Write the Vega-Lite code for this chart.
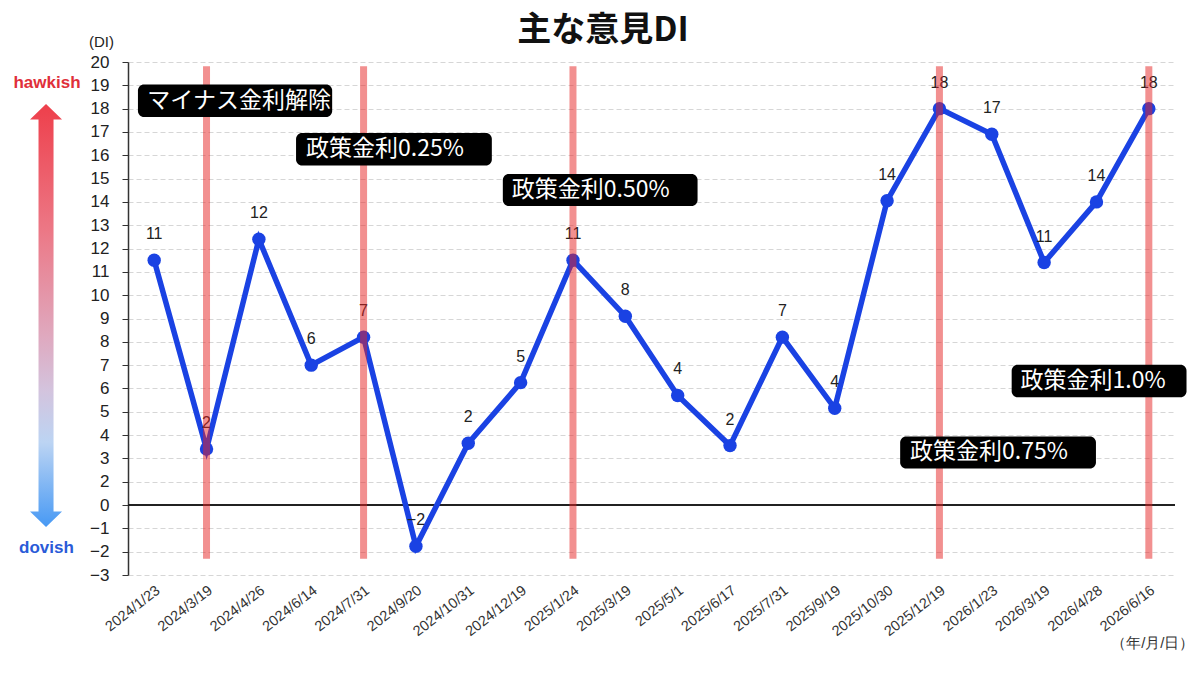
{
  "$schema": "https://vega.github.io/schema/vega-lite/v6.json",
  "title": {"text": "主な意見DI", "font": "Noto Sans CJK JP", "fontSize": 34, "fontWeight": "bold", "color": "#111", "anchor": "middle", "offset": -14, "dx": 6},
  "padding": {"left": 0, "top": 14, "right": 10, "bottom": 5},
  "background": "white",
  "spacing": 0,
  "config": {
    "view": {"stroke": null},
    "font": "Liberation Sans",
    "axisY": {
      "labelOverlap": false, "labelFlush": false,
      "grid": true, "gridDash": [5, 3], "gridColor": "#d6d6d6",
      "domainColor": "#333", "domainWidth": 1.5, "tickColor": "#333", "tickSize": 6,
      "labelFontSize": 17, "labelPadding": 13, "labelColor": "#222",
      "titleAngle": 0, "titleAlign": "center", "titleBaseline": "middle",
      "titleX": -27, "titleY": -21, "titleFontSize": 15, "titleFontWeight": "normal", "titleColor": "#222"
    }
  },
  "datasets": {
    "di": [
      {"date": "2024/1/23", "pos": 11.5, "label": 11, "event": false},
      {"date": "2024/3/19", "pos": 3.4, "label": 2, "event": true},
      {"date": "2024/4/26", "pos": 12.4, "label": 12, "event": false},
      {"date": "2024/6/14", "pos": 7.0, "label": 6, "event": false},
      {"date": "2024/7/31", "pos": 8.2, "label": 7, "event": true},
      {"date": "2024/9/20", "pos": -0.77, "label": -2, "event": false},
      {"date": "2024/10/31", "pos": 3.65, "label": 2, "event": false},
      {"date": "2024/12/19", "pos": 6.25, "label": 5, "event": false},
      {"date": "2025/1/24", "pos": 11.5, "label": 11, "event": true},
      {"date": "2025/3/19", "pos": 9.1, "label": 8, "event": false},
      {"date": "2025/5/1", "pos": 5.7, "label": 4, "event": false},
      {"date": "2025/6/17", "pos": 3.55, "label": 2, "event": false},
      {"date": "2025/7/31", "pos": 8.2, "label": 7, "event": false},
      {"date": "2025/9/19", "pos": 5.15, "label": 4, "event": false},
      {"date": "2025/10/30", "pos": 14.05, "label": 14, "event": false},
      {"date": "2025/12/19", "pos": 18.0, "label": 18, "event": true},
      {"date": "2026/1/23", "pos": 16.9, "label": 17, "event": false},
      {"date": "2026/3/19", "pos": 11.4, "label": 11, "event": false},
      {"date": "2026/4/28", "pos": 14.0, "label": 14, "event": false},
      {"date": "2026/6/16", "pos": 18.0, "label": 18, "event": true}
    ],
    "notes": [
      {"text": "マイナス金利解除", "x1": -0.31, "x2": 3.4, "y1": 19.04, "y2": 17.64, "tx": -0.13, "ty": 18.34},
      {"text": "政策金利0.25%", "x1": 2.71, "x2": 6.45, "y1": 16.95, "y2": 15.56, "tx": 2.9, "ty": 16.26},
      {"text": "政策金利0.50%", "x1": 6.66, "x2": 10.38, "y1": 15.2, "y2": 13.82, "tx": 6.83, "ty": 14.52},
      {"text": "政策金利0.75%", "x1": 14.25, "x2": 17.99, "y1": 3.94, "y2": 2.57, "tx": 14.44, "ty": 3.27},
      {"text": "政策金利1.0%", "x1": 16.38, "x2": 19.72, "y1": 7.02, "y2": 5.62, "tx": 16.55, "ty": 6.32}
    ],
    "side": [
      {"kind": "arrow", "x": 0.523, "y": 9.13, "text": ""},
      {"kind": "hawkish", "x": 0.534, "y": 19.11, "text": "hawkish"},
      {"kind": "dovish", "x": 0.528, "y": -0.85, "text": "dovish"}
    ]
  },
  "hconcat": [
    {
      "width": 88,
      "height": 513,
      "data": {"name": "side"},
      "encoding": {
        "x": {"field": "x", "type": "quantitative", "scale": {"domain": [0, 1]}, "axis": null},
        "y": {"field": "y", "type": "quantitative", "scale": {"domain": [-2, 20], "nice": false, "zero": false}, "axis": null}
      },
      "layer": [
        {
          "transform": [{"filter": "datum.kind === 'arrow'"}],
          "mark": {
            "type": "point",
            "filled": true,
            "opacity": 1,
            "strokeWidth": 0,
            "size": 178929,
            "shape": "M0,-1L0.0757,-0.927L0.0355,-0.927L0.0355,0.927L0.0757,0.927L0,1L-0.0757,0.927L-0.0355,0.927L-0.0355,-0.927L-0.0757,-0.927Z",
            "fill": {
              "gradient": "linear", "x1": 0, "y1": 0, "x2": 0, "y2": 1,
              "stops": [
                {"offset": 0, "color": "#ee3f4b"},
                {"offset": 0.3, "color": "#ec7886"},
                {"offset": 0.55, "color": "#dfa9bf"},
                {"offset": 0.68, "color": "#d3c4de"},
                {"offset": 0.8, "color": "#bcd4f3"},
                {"offset": 1, "color": "#4799f4"}
              ]
            }
          }
        },
        {
          "transform": [{"filter": "datum.kind !== 'arrow'"}],
          "mark": {"type": "text", "fontSize": 17, "fontWeight": "bold", "baseline": "middle", "align": "center"},
          "encoding": {
            "text": {"field": "text"},
            "color": {"field": "kind", "type": "nominal", "scale": {"domain": ["hawkish", "dovish"], "range": ["#e0303a", "#2a5bd8"]}, "legend": null}
          }
        }
      ]
    },
    {
      "width": 1047,
      "height": 513,
      "layer": [
        {
          "data": {"name": "di"},
          "encoding": {
            "x": {
              "field": "date", "type": "nominal", "sort": null,
              "scale": {"paddingInner": 0, "paddingOuter": 0},
              "axis": {
                "labelAngle": -38, "labelFontSize": 14.5, "labelColor": "#333", "ticks": false, "domain": false,
                "grid": false, "labelPadding": 8, "labelOverlap": false,
                "title": "（年/月/日）", "titleFontSize": 15, "titleFontWeight": "normal", "titleColor": "#333",
                "titleAlign": "right", "titleBaseline": "middle", "titleX": 1066, "titleY": 67
              }
            },
            "y": {
              "field": "pos", "type": "quantitative",
              "scale": {"domain": [-2, 20], "nice": false, "zero": false},
              "axis": {
                "title": "(DI)",
                "values": [-2, -1, 0, 1, 2, 3, 4, 5, 6, 7, 8, 9, 10, 11, 12, 13, 14, 15, 16, 17, 18, 19, 20],
                "labelExpr": "datum.value >= 2 ? datum.value : format(datum.value - 1, 'd')"
              }
            }
          },
          "layer": [
            {
              "mark": {"type": "rule", "color": "#222", "strokeWidth": 1.5},
              "encoding": {
                "x": null,
                "y": {
                  "datum": 1, "type": "quantitative",
                  "axis": {
                    "title": "(DI)",
                    "values": [-2, -1, 0, 1, 2, 3, 4, 5, 6, 7, 8, 9, 10, 11, 12, 13, 14, 15, 16, 17, 18, 19, 20],
                    "labelExpr": "datum.value >= 2 ? datum.value : format(datum.value - 1, 'd')"
                  }
                }
              }
            },
            {"mark": {"type": "line", "color": "#1a42e3", "strokeWidth": 5.5}},
            {"mark": {"type": "point", "filled": true, "opacity": 1, "color": "#1a42e3", "size": 180}},
            {"mark": {"type": "text", "fontSize": 16, "color": "#222", "dy": -26, "baseline": "middle"}, "encoding": {"text": {"field": "label", "format": "d"}}},
            {
              "transform": [{"filter": "datum.event"}],
              "mark": {"type": "rule", "color": "#e62222", "opacity": 0.5, "strokeWidth": 7},
              "encoding": {
                "y": {
                  "datum": 19.82, "type": "quantitative",
                  "axis": {
                    "title": "(DI)",
                    "values": [-2, -1, 0, 1, 2, 3, 4, 5, 6, 7, 8, 9, 10, 11, 12, 13, 14, 15, 16, 17, 18, 19, 20],
                    "labelExpr": "datum.value >= 2 ? datum.value : format(datum.value - 1, 'd')"
                  }
                },
                "y2": {"datum": -1.3}
              }
            }
          ]
        },
        {
          "data": {"name": "notes"},
          "layer": [
            {
              "mark": {"type": "rect", "color": "#000", "cornerRadius": 6},
              "encoding": {
                "x": {"field": "x1", "type": "quantitative", "scale": {"domain": [-0.5, 19.5], "nice": false, "zero": false}, "axis": null},
                "x2": {"field": "x2"},
                "y": {
                  "field": "y1", "type": "quantitative",
                  "axis": {
                    "title": "(DI)",
                    "values": [-2, -1, 0, 1, 2, 3, 4, 5, 6, 7, 8, 9, 10, 11, 12, 13, 14, 15, 16, 17, 18, 19, 20],
                    "labelExpr": "datum.value >= 2 ? datum.value : format(datum.value - 1, 'd')"
                  }
                },
                "y2": {"field": "y2"}
              }
            },
            {
              "mark": {"type": "text", "color": "white", "font": "Noto Sans CJK JP", "fontSize": 23, "letterSpacing": 1.5, "align": "left", "baseline": "middle"},
              "encoding": {
                "x": {"field": "tx", "type": "quantitative", "scale": {"domain": [-0.5, 19.5], "nice": false, "zero": false}, "axis": null},
                "y": {
                  "field": "ty", "type": "quantitative",
                  "axis": {
                    "title": "(DI)",
                    "values": [-2, -1, 0, 1, 2, 3, 4, 5, 6, 7, 8, 9, 10, 11, 12, 13, 14, 15, 16, 17, 18, 19, 20],
                    "labelExpr": "datum.value >= 2 ? datum.value : format(datum.value - 1, 'd')"
                  }
                },
                "text": {"field": "text"}
              }
            }
          ]
        }
      ],
      "resolve": {"scale": {"x": "independent"}}
    }
  ]
}
